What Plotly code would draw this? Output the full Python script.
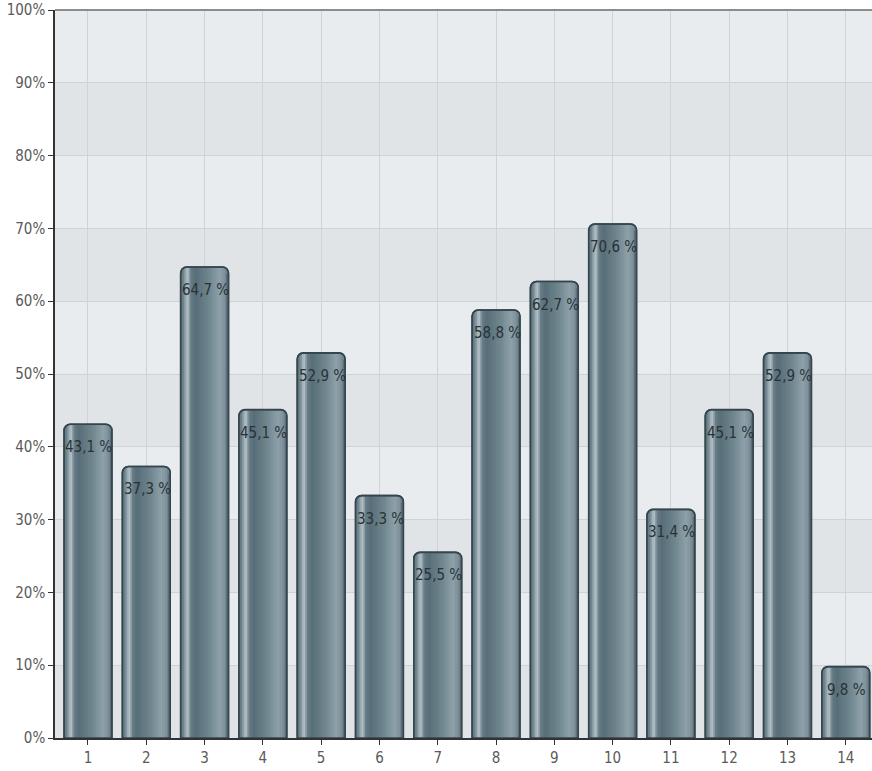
import math
import plotly.graph_objects as go

# Question numbers and share of respondents (percent)
categories = list(range(1, 15))
values = [43.1, 37.3, 64.7, 45.1, 52.9, 33.3, 25.5, 58.8, 62.7, 70.6, 31.4, 45.1, 52.9, 9.8]
labels = [f"{v:.1f}".replace(".", ",") + " %" for v in values]
x_tick_text = [str(c) for c in categories]
y_ticks = list(range(0, 101, 10))
y_tick_text = [f"{t}%" for t in y_ticks]

W, H = 872, 771
M_L, M_R, M_T, M_B = 55, 0, 10, 33
X_RANGE = [0.434, 14.45]
BAR_W = 0.82
RADIUS = 6
TEXT_FONT = "Liberation Sans Narrow, DejaVu Sans Condensed, Arial Narrow, sans-serif"

plot_w = W - M_L - M_R
plot_h = H - M_T - M_B
px_per_cat = plot_w / (X_RANGE[1] - X_RANGE[0])
units_per_px = 100.0 / plot_h
bar_px = BAR_W * px_per_cat

# Horizontal shading profile of a cylinder-style bar (position 0..1 -> colour)
profile = [
    (0.00, "#5b707a"), (0.06, "#70868f"), (0.14, "#b8c5ca"), (0.22, "#647a85"),
    (0.32, "#586e79"), (0.60, "#71878f"), (0.82, "#8ea1aa"), (0.93, "#7d909a"),
    (1.00, "#52656f"),
]


def hex_rgb(h):
    h = h.lstrip("#")
    return tuple(int(h[i:i + 2], 16) for i in (0, 2, 4))


def shade(t):
    for (p0, c0), (p1, c1) in zip(profile, profile[1:]):
        if p0 <= t <= p1:
            f = (t - p0) / (p1 - p0) if p1 > p0 else 0
            a, b = hex_rgb(c0), hex_rgb(c1)
            return "rgb({},{},{})".format(*(round(a[k] + (b[k] - a[k]) * f) for k in range(3)))
    return profile[-1][1]


fig = go.Figure()

# Base bar with outline and rounded top
fig.add_trace(go.Bar(
    x=categories, y=values, width=BAR_W,
    marker=dict(color="#647a85", line=dict(color="#34454e", width=1.5), cornerradius=RADIUS),
    hoverinfo="skip", showlegend=False,
))

# Vertical shading stripes laid over each bar (slightly overlapping to avoid seams)
n_stripes = 30
step = BAR_W / n_stripes
overlap = 0.6 / px_per_cat
for i in range(n_stripes):
    left_px = i * bar_px / n_stripes
    right_px = (i + 1) * bar_px / n_stripes
    d = max(0.0, min(left_px, bar_px - right_px))
    drop_px = 1.0
    if d < RADIUS:
        drop_px += RADIUS - math.sqrt(max(0.0, RADIUS ** 2 - (RADIUS - d) ** 2))
    drop = drop_px * units_per_px
    extra = overlap if i < n_stripes - 1 else 0
    fig.add_trace(go.Bar(
        x=categories, y=[max(v - drop, 0) for v in values],
        width=step + extra,
        offset=-BAR_W / 2 + i * step,
        marker=dict(color=shade((i + 0.5) / n_stripes), line=dict(width=0)),
        hoverinfo="skip", showlegend=False,
    ))

# Outline drawn again on top of the stripes
fig.add_trace(go.Bar(
    x=categories, y=values, width=BAR_W,
    marker=dict(color="rgba(0,0,0,0)", line=dict(color="#34454e", width=1.6), cornerradius=RADIUS),
    hoverinfo="skip", showlegend=False,
))

# Value labels just inside the top of each bar
for c, v, lab in zip(categories, values, labels):
    fig.add_annotation(
        x=c, y=v, text=lab, showarrow=False, yanchor="top", yshift=-12, xshift=1,
        font=dict(family=TEXT_FONT, size=15, color="#283236"),
    )

# Alternating horizontal background bands
shapes = []
for lo in range(0, 100, 20):
    shapes.append(dict(
        type="rect", xref="paper", yref="y", x0=0, x1=1, y0=lo, y1=lo + 10,
        fillcolor="#e1e4e7", line=dict(width=0), layer="below",
    ))
shapes.append(dict(
    type="line", xref="paper", yref="paper", x0=0, x1=1, y0=1, y1=1,
    line=dict(color="#8c8c8c", width=2),
))
fig.update_layout(shapes=shapes)

fig.update_layout(
    width=W, height=H,
    margin=dict(l=M_L, r=M_R, t=M_T, b=M_B, pad=0),
    barmode="overlay",
    paper_bgcolor="white",
    plot_bgcolor="#e9ecef",
    showlegend=False,
    font=dict(family=TEXT_FONT, size=15, color="#5a5a5a"),
    xaxis=dict(
        range=X_RANGE, tickvals=categories, ticktext=x_tick_text,
        showgrid=True, gridcolor="#cfd3d7", gridwidth=1,
        showline=True, linecolor="#333333", linewidth=1.5,
        ticks="outside", ticklen=5, tickcolor="#333333",
        tickfont=dict(family=TEXT_FONT, size=15, color="#5a5a5a"),
        zeroline=False,
    ),
    yaxis=dict(
        range=[0, 100], tickvals=y_ticks, ticktext=y_tick_text,
        showgrid=True, gridcolor="#cfd3d7", gridwidth=1,
        showline=True, linecolor="#333333", linewidth=1.5,
        ticks="outside", ticklen=5, tickcolor="#333333",
        tickfont=dict(family=TEXT_FONT, size=15, color="#5a5a5a"),
        zeroline=False,
    ),
)

fig.write_html("out.html")
